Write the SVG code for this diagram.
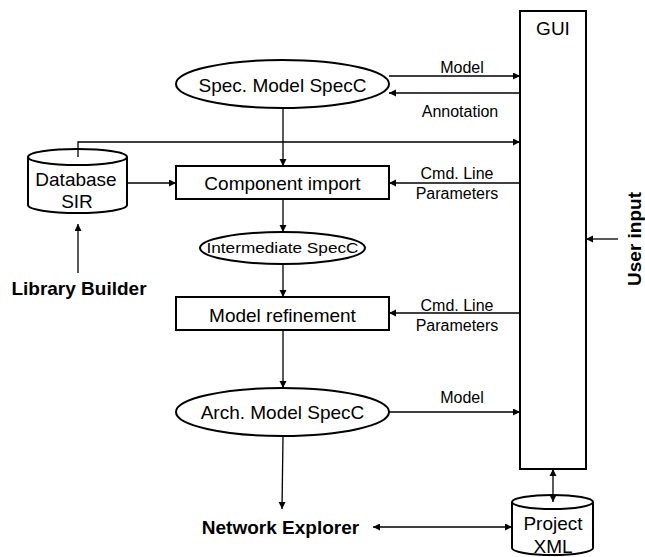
<svg xmlns="http://www.w3.org/2000/svg" width="645" height="557" viewBox="0 0 645 557">
<style>
.shape{fill:#fff;stroke:#000;stroke-width:2}
.conn{fill:none;stroke:#000;stroke-width:1.3}
text{font-family:"Liberation Sans",Arial,sans-serif;fill:#000}
.big{font-size:19px;text-anchor:middle}
.lbl{font-size:16px;text-anchor:middle}
.bold{font-size:19px;font-weight:bold;text-anchor:middle}
</style>
<defs>
<marker id="ah" markerUnits="userSpaceOnUse" markerWidth="8" markerHeight="8" refX="7" refY="3.5" orient="auto">
<path d="M0,0 L7,3.5 L0,7 Z" fill="#000"/>
</marker>
<marker id="as" markerUnits="userSpaceOnUse" markerWidth="8" markerHeight="8" refX="0" refY="3.5" orient="auto">
<path d="M7,0 L0,3.5 L7,7 Z" fill="#000"/>
</marker>
</defs>
<rect width="645" height="557" fill="#fff"/>
<g id="gui">
<rect class="shape" x="520" y="11" width="66" height="458"/>
<text class="big" x="553" y="35">GUI</text>
</g>
<g id="spec-model">
<ellipse class="shape" cx="282.5" cy="84" rx="106.5" ry="24"/>
<text class="big" x="282.5" y="91.5">Spec. Model SpecC</text>
</g>
<g id="database-sir">
<path class="shape" d="M28,157 L28,205 A49.5,8 0 0 0 127,205 L127,157"/>
<ellipse class="shape" cx="77.5" cy="157" rx="49.5" ry="8"/>
<text class="big" x="76" y="185.5">Database</text>
<text class="big" x="77" y="208">SIR</text>
</g>
<g id="component-import">
<rect class="shape" x="176" y="166" width="213" height="33"/>
<text class="big" x="282.5" y="190">Component import</text>
</g>
<g id="intermediate">
<ellipse class="shape" cx="282.5" cy="248" rx="82.5" ry="16"/>
<text x="282.5" y="253" font-size="15" text-anchor="middle" textLength="152" lengthAdjust="spacingAndGlyphs">Intermediate SpecC</text>
</g>
<g id="library-builder">
<text class="bold" x="79" y="295">Library Builder</text>
</g>
<g id="model-refinement">
<rect class="shape" x="176" y="297" width="213" height="33"/>
<text class="big" x="282.5" y="321.5">Model refinement</text>
</g>
<g id="user-input">
<text class="bold" transform="translate(641,239) rotate(-90)" x="0" y="0">User input</text>
</g>
<g id="arch-model">
<ellipse class="shape" cx="282.5" cy="412" rx="106.5" ry="24"/>
<text class="big" x="282.5" y="419">Arch. Model SpecC</text>
</g>
<g id="network-explorer">
<text class="bold" x="280.5" y="534">Network Explorer</text>
</g>
<g id="project-xml">
<path class="shape" d="M512,502 L512,548 A40.5,7 0 0 0 593,548 L593,502"/>
<ellipse class="shape" cx="552.5" cy="502" rx="40.5" ry="7"/>
<text class="big" x="553" y="530">Project</text>
<text class="big" x="553" y="553">XML</text>
</g>
<g id="connectors">
<line class="conn" x1="389" y1="76" x2="520" y2="76" marker-end="url(#ah)"/>
<line class="conn" x1="520" y1="93" x2="389" y2="93" marker-end="url(#ah)"/>
<line class="conn" x1="283" y1="108" x2="283" y2="166" marker-end="url(#ah)"/>
<polyline class="conn" points="78,157 78,142 520,142" marker-end="url(#ah)"/>
<line class="conn" x1="127" y1="183" x2="176" y2="183" marker-end="url(#ah)"/>
<line class="conn" x1="520" y1="183" x2="389" y2="183" marker-end="url(#ah)"/>
<line class="conn" x1="283" y1="199" x2="283" y2="232" marker-end="url(#ah)"/>
<line class="conn" x1="283" y1="264" x2="283" y2="297" marker-end="url(#ah)"/>
<line class="conn" x1="520" y1="313" x2="389" y2="313" marker-end="url(#ah)"/>
<line class="conn" x1="78" y1="273" x2="78" y2="224" marker-end="url(#ah)"/>
<line class="conn" x1="618" y1="239" x2="586" y2="239" marker-end="url(#ah)"/>
<line class="conn" x1="283" y1="330" x2="283" y2="388" marker-end="url(#ah)"/>
<line class="conn" x1="389" y1="412" x2="520" y2="412" marker-end="url(#ah)"/>
<line class="conn" x1="283" y1="437" x2="282" y2="509" marker-end="url(#ah)"/>
<line class="conn" x1="373" y1="527" x2="512" y2="527" marker-start="url(#as)" marker-end="url(#ah)"/>
<line class="conn" x1="553" y1="469" x2="553" y2="502" marker-start="url(#as)" marker-end="url(#ah)"/>
<text class="lbl" x="462" y="72.5">Model</text>
<text class="lbl" x="460" y="117">Annotation</text>
<text class="lbl" x="457" y="179">Cmd. Line</text>
<text class="lbl" x="457" y="199">Parameters</text>
<text class="lbl" x="457" y="310.5">Cmd. Line</text>
<text class="lbl" x="457" y="330.5">Parameters</text>
<text class="lbl" x="462" y="403">Model</text>
</g>
</svg>
